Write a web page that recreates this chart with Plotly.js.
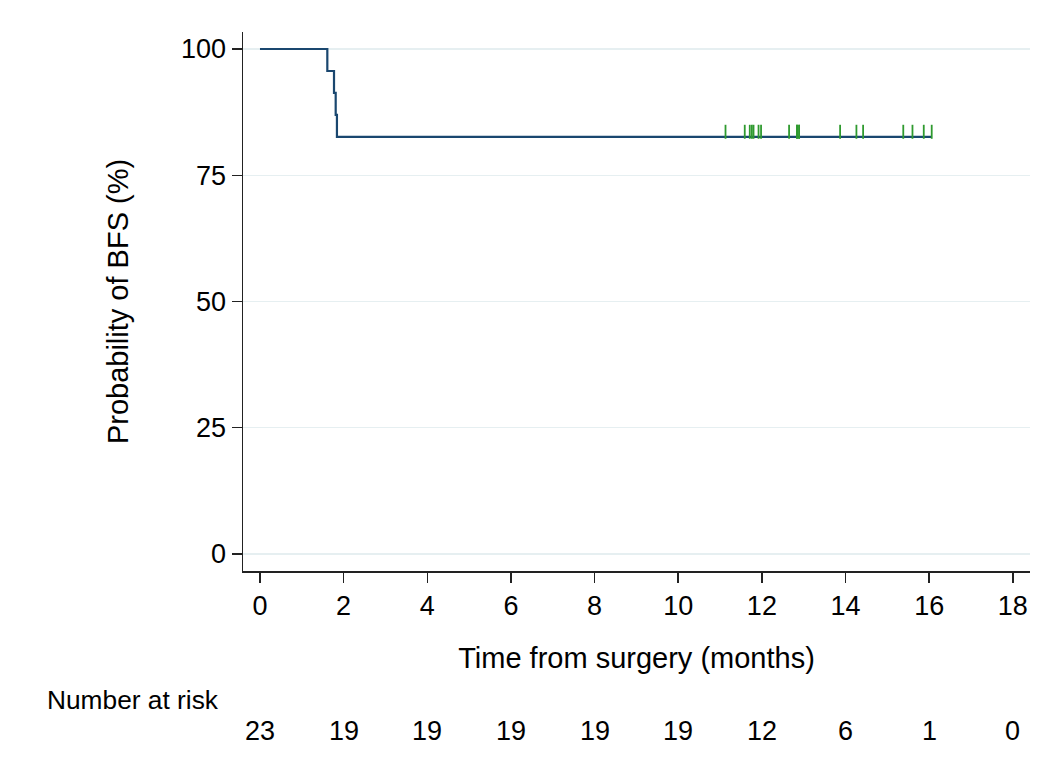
<!DOCTYPE html>
<html>
<head>
<meta charset="utf-8">
<script src="https://cdn.plot.ly/plotly-3.0.1.min.js"></script>
<style>html,body{margin:0;padding:0;background:#fff;}#chart{width:1052px;height:772px;}</style>
</head>
<body>
<div id="chart"></div>
<script>
// Kaplan-Meier step curve (time in months, survival %)
var kmTimes = [0, 1.61, 1.77, 1.81, 1.84, 16.06];
var kmSurv = [100, 95.65, 91.30, 86.96, 82.61, 82.61];
// Censoring times (survival level at censoring)
var censorTimes = [11.13, 11.59, 11.71, 11.76, 11.80, 11.92, 11.98, 12.65, 12.84, 12.84, 12.89, 12.89, 13.87, 14.26, 14.42, 15.38, 15.60, 15.87, 16.06];
var censorLevel = 82.61;
// Number at risk table
var riskTimes = [0, 2, 4, 6, 8, 10, 12, 14, 16, 18];
var riskCounts = [23, 19, 19, 19, 19, 19, 12, 6, 1, 0];
var yTicks = [0, 25, 50, 75, 100];
var xTicks = [0, 2, 4, 6, 8, 10, 12, 14, 16, 18];

var FONT = 'Liberation Sans, Arial, sans-serif';
var TICK = 27, TITLE = 29;

var traces = [
  {
    x: kmTimes, y: kmSurv, type: 'scatter', mode: 'lines',
    line: {shape: 'hv', color: '#1a476f', width: 2.2},
    hoverinfo: 'skip', showlegend: false
  },
  {
    x: censorTimes, y: censorTimes.map(function(){ return censorLevel + 1; }),
    type: 'scatter', mode: 'markers',
    marker: {symbol: 'line-ns', size: 10, line: {color: '#2f9a2f', width: 1.8}},
    hoverinfo: 'skip', showlegend: false
  }
];

var annotations = riskTimes.map(function(t, i){
  return {x: t, y: -0.297, xref: 'x', yref: 'paper', text: String(riskCounts[i]),
    showarrow: false, xanchor: 'center', yanchor: 'middle',
    font: {family: FONT, size: TICK, color: '#000'}};
});
annotations.push({x: -0.0275, y: -0.239, xref: 'paper', yref: 'paper', text: 'Number at risk',
  showarrow: false, xanchor: 'right', yanchor: 'middle',
  font: {family: FONT, size: 26.3, color: '#000'}});

var layout = {
  width: 1052, height: 772,
  margin: {l: 243, r: 22, t: 32, b: 201},
  paper_bgcolor: '#fff', plot_bgcolor: '#fff',
  font: {family: FONT, size: TICK, color: '#000'},
  showlegend: false,
  xaxis: {
    range: [-0.406, 18.41], tickvals: xTicks, ticktext: xTicks.map(String),
    showgrid: false, zeroline: false, showline: true, linecolor: '#222', linewidth: 1.5,
    ticks: 'outside', ticklen: 10, tickwidth: 1.5, tickcolor: '#222',
    tickfont: {family: FONT, size: TICK, color: '#000'},
    title: {text: 'Time from surgery (months)', font: {family: FONT, size: TITLE, color: '#000'}, standoff: 28},
    automargin: false
  },
  yaxis: {
    range: [-3.37, 103.37], tickvals: yTicks, ticktext: yTicks.map(String),
    showgrid: true, gridcolor: '#e6eff1', gridwidth: 1.5,
    zeroline: false, showline: true, linecolor: '#222', linewidth: 1.5,
    ticks: 'outside', ticklen: 10, tickwidth: 1.5, tickcolor: '#222',
    tickfont: {family: FONT, size: TICK, color: '#000'},
    title: {text: 'Probability of BFS (%)', font: {family: FONT, size: TITLE, color: '#000'}, standoff: 44},
    automargin: false
  },
  annotations: annotations
};

Plotly.newPlot('chart', traces, layout, {displayModeBar: false, staticPlot: true});
</script>
</body>
</html>
